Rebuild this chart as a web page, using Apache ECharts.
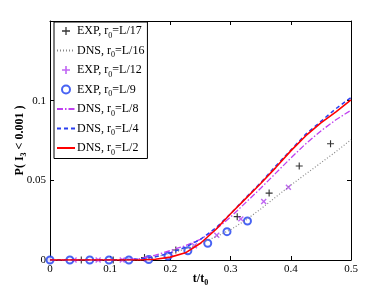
<!DOCTYPE html>
<html><head><meta charset="utf-8">
<script src="https://cdn.jsdelivr.net/npm/echarts@6/dist/echarts.min.js"></script>
<style>html,body{margin:0;padding:0;background:#fff}#c{width:390px;height:293px}</style>
</head><body><div id="c"></div>
<script>
// EXP, r0=L/17 (plus markers)
const exp17T = [0, 0.052, 0.105, 0.157, 0.209, 0.311, 0.364, 0.414, 0.466];
const exp17Y = [0, 0, 0, 0.0015, 0.0063, 0.0272, 0.042, 0.059, 0.073];
// EXP, r0=L/12 (x markers)
const exp12T = [0, 0.04, 0.08, 0.12, 0.16, 0.2, 0.24, 0.277, 0.317, 0.355, 0.396];
const exp12Y = [0, 0, 0, 0, 0.0005, 0.004, 0.009, 0.0155, 0.0258, 0.0367, 0.0457];
// EXP, r0=L/9 (circles)
const exp9T = [0, 0.033, 0.066, 0.098, 0.131, 0.164, 0.196, 0.229, 0.262, 0.294, 0.328];
const exp9Y = [0, 0, 0, 0, 0, 0.0003, 0.0025, 0.0058, 0.0105, 0.0178, 0.0245];
// DNS curves
const dnsT   = [0, 0.05, 0.1, 0.15, 0.175, 0.2, 0.225, 0.25, 0.275, 0.3, 0.325, 0.35, 0.375, 0.4, 0.425, 0.45, 0.475, 0.5];
const dns16Y = [0, 0, 0, 0, 0.002, 0.004, 0.007, 0.0105, 0.0145, 0.019, 0.025, 0.032, 0.0395, 0.047, 0.054, 0.061, 0.068, 0.0755];
const dns8Y  = [0, 0, 0, 0.0008, 0.003, 0.006, 0.009, 0.013, 0.019, 0.027, 0.036, 0.045, 0.0545, 0.064, 0.073, 0.081, 0.088, 0.094];
const dns4Y  = [0, 0, 0, 0.0005, 0.002, 0.0045, 0.008, 0.013, 0.02, 0.029, 0.039, 0.0485, 0.059, 0.069, 0.079, 0.087, 0.095, 0.102];
const dns2Y  = [0, 0, 0, 0, 0.0005, 0.0018, 0.0045, 0.0105, 0.019, 0.029, 0.0385, 0.048, 0.058, 0.0685, 0.078, 0.086, 0.093, 0.1005];
const xTicks = [0, 0.1, 0.2, 0.3, 0.4, 0.5];
const yTicks = [0, 0.05, 0.1];

const zip = (t, y) => t.map((v, i) => [v, y[i]]);
const FONT = '"Liberation Serif", "DejaVu Serif", serif';
const plusPath = 'path://M4.2,0H5.8V4.2H10V5.8H5.8V10H4.2V5.8H0V4.2H4.2Z';
const crossPath = 'path://M4,0H6V4H10V6H6V10H4V6H0V4H4Z';

const names = ['EXP17','DNS16','EXP12','EXP9','DNS8','DNS4','DNS2'];
const labels = {
  EXP17: 'EXP, r{s|0}=L/17', DNS16: 'DNS, r{s|0}=L/16', EXP12: 'EXP, r{s|0}=L/12',
  EXP9: 'EXP, r{s|0}=L/9', DNS8: 'DNS, r{s|0}=L/8', DNS4: 'DNS, r{s|0}=L/4', DNS2: 'DNS, r{s|0}=L/2'
};
const lineNames = ['DNS16','DNS8','DNS4','DNS2'];

const chart = echarts.init(document.getElementById('c'), null, {renderer: 'canvas'});
const axisCommon = {
  min: 0, axisLine: {show: true, onZero: false, lineStyle: {color: '#000', width: 1}},
  axisTick: {show: true, inside: true, length: 4, lineStyle: {color: '#000'}},
  splitLine: {show: false}
};
chart.setOption({
  animation: false,
  textStyle: {fontFamily: FONT},
  grid: {left: 50, right: 39, top: 21, bottom: 33, containLabel: false, outerBoundsMode: 'none'},
  legend: {
    orient: 'vertical', left: 54, top: 22,
    data: names.map(n => lineNames.includes(n)
      ? {name: n, itemStyle: {color: 'rgba(0,0,0,0)', borderWidth: 0, opacity: 0}}
      : {name: n}),
    itemWidth: 18, itemHeight: 8, itemGap: 5,
    padding: [3, 3, 2, 2], borderColor: '#000', borderWidth: 1, backgroundColor: '#fff',
    textStyle: {fontFamily: FONT, fontSize: 12, color: '#000', padding: [0, 0, 0, -3],
      rich: {s: {fontSize: 8, fontFamily: FONT, padding: [9, 0, 0, 0]}}},
    formatter: n => labels[n]
  },
  xAxis: [
    Object.assign({}, axisCommon, {type: 'value', max: 0.5, interval: 0.1, position: 'bottom',
      axisLabel: {fontFamily: FONT, fontSize: 11, color: '#000', margin: 4,
        formatter: v => xTicks.includes(+v.toFixed(2)) ? String(+v.toFixed(2)) : ''},
      name: 't/t{s|0}', nameLocation: 'middle', nameGap: 10, nameMoveOverlap: false,
      nameTextStyle: {fontFamily: FONT, fontSize: 12, fontWeight: 'bold', color: '#000',
        rich: {s: {fontSize: 8, fontWeight: 'bold', fontFamily: FONT, padding: [9, 0, 0, 0]}}}}),
    Object.assign({}, axisCommon, {type: 'value', max: 0.5, interval: 0.1, position: 'top', axisLabel: {show: false}})
  ],
  yAxis: [
    Object.assign({}, axisCommon, {type: 'value', max: 0.15, interval: 0.05, position: 'left',
      axisLabel: {fontFamily: FONT, fontSize: 11, color: '#000', margin: 4,
        formatter: v => yTicks.includes(+v.toFixed(2)) ? String(+v.toFixed(2)) : ''},
      name: 'P( I{s|3} < 0.001 )', nameLocation: 'middle', nameGap: 22, nameRotate: 90, nameMoveOverlap: false,
      nameTextStyle: {fontFamily: FONT, fontSize: 12, fontWeight: 'bold', color: '#000',
        rich: {s: {fontSize: 8, fontWeight: 'bold', fontFamily: FONT, padding: [9, 0, 0, 0]}}}}),
    Object.assign({}, axisCommon, {type: 'value', max: 0.15, interval: 0.05, position: 'right', axisLabel: {show: false}})
  ],
  series: [
    {name: 'EXP17', type: 'scatter', data: zip(exp17T, exp17Y), symbol: plusPath, symbolSize: 7,
      itemStyle: {color: '#000'}},
    {name: 'DNS16', type: 'line', data: zip(dnsT, dns16Y), symbol: 'none', smooth: false,
      lineStyle: {color: '#888', width: 1.2, type: [1, 2]}, itemStyle: {color: '#888'}},
    {name: 'EXP12', type: 'scatter', data: zip(exp12T, exp12Y), symbol: crossPath, symbolSize: 7, symbolRotate: 45,
      itemStyle: {color: '#b040f0'}},
    {name: 'EXP9', type: 'scatter', data: zip(exp9T, exp9Y), symbol: 'emptyCircle', symbolSize: 7,
      itemStyle: {color: '#1a3cf0', borderColor: '#1a3cf0', borderWidth: 1.6}},
    {name: 'DNS8', type: 'line', data: zip(dnsT, dns8Y), symbol: 'none',
      lineStyle: {color: '#c040f0', width: 1.3, type: [6, 2, 1.5, 2]}, itemStyle: {color: '#c040f0'}},
    {name: 'DNS4', type: 'line', data: zip(dnsT, dns4Y), symbol: 'none',
      lineStyle: {color: '#2a3ff0', width: 1.5, type: [4, 3]}, itemStyle: {color: '#2a3ff0'}},
    {name: 'DNS2', type: 'line', data: zip(dnsT, dns2Y), symbol: 'none',
      lineStyle: {color: '#ff0000', width: 1.6}, itemStyle: {color: '#ff0000'}}
  ]
});
</script></body></html>
